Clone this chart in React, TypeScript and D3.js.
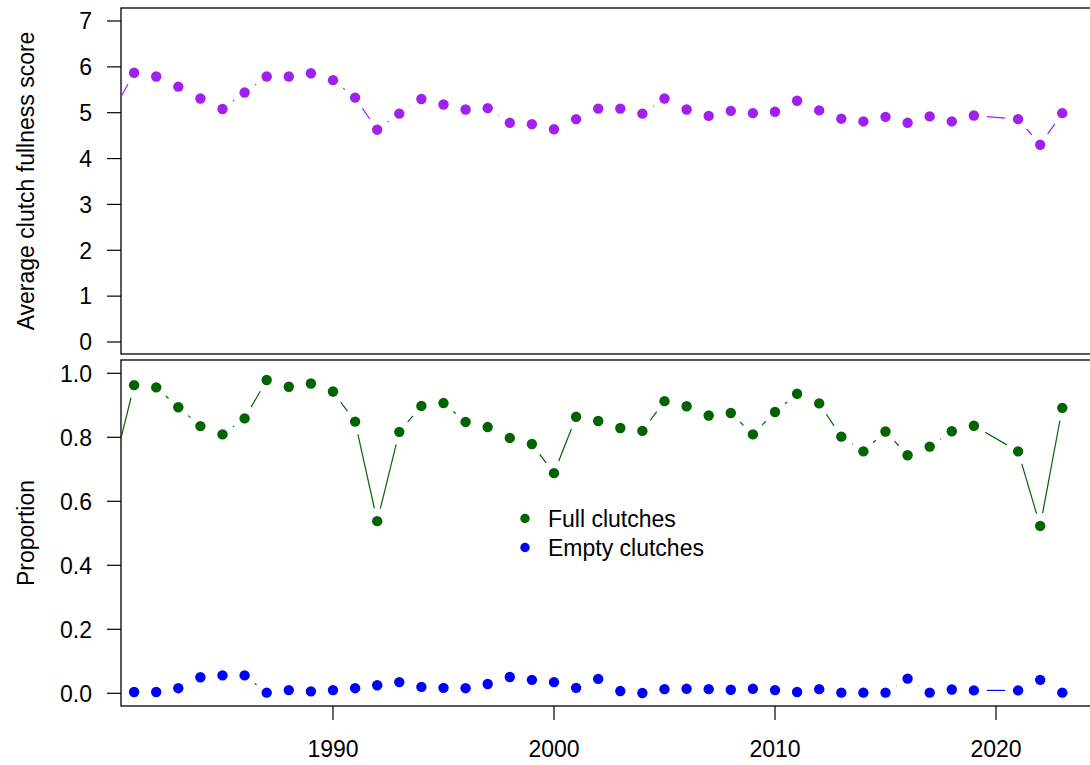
import React from "react";
import * as d3 from "d3";

const years = [1980,1981,1982,1983,1984,1985,1986,1987,1988,1989,1990,1991,1992,1993,1994,1995,1996,1997,1998,1999,2000,2001,2002,2003,2004,2005,2006,2007,2008,2009,2010,2011,2012,2013,2014,2015,2016,2017,2018,2019,2021,2022,2023];
const fullnessScore = [4.98,5.87,5.79,5.57,5.31,5.08,5.44,5.79,5.79,5.86,5.71,5.33,4.63,4.98,5.30,5.18,5.07,5.10,4.78,4.75,4.64,4.86,5.09,5.09,4.98,5.31,5.07,4.93,5.04,4.99,5.02,5.26,5.05,4.87,4.81,4.91,4.78,4.92,4.81,4.94,4.86,4.30,4.99];
const fullClutches = [0.683,0.963,0.956,0.894,0.835,0.809,0.859,0.979,0.958,0.968,0.943,0.849,0.538,0.817,0.898,0.907,0.848,0.832,0.798,0.779,0.688,0.864,0.851,0.829,0.82,0.913,0.897,0.868,0.876,0.809,0.879,0.936,0.906,0.802,0.756,0.818,0.744,0.771,0.819,0.836,0.756,0.523,0.892];
const emptyClutches = [0.005,0.004,0.004,0.016,0.05,0.056,0.056,0.002,0.010,0.006,0.010,0.016,0.025,0.035,0.02,0.017,0.016,0.029,0.051,0.042,0.035,0.017,0.045,0.007,0.001,0.013,0.014,0.013,0.011,0.014,0.010,0.004,0.013,0.002,0.002,0.002,0.046,0.002,0.012,0.009,0.009,0.042,0.002];

const topTicks = [0,1,2,3,4,5,6,7];
const bottomTicks = [0,0.2,0.4,0.6,0.8,1.0];
const xTicks = [1990,2000,2010,2020];
const legendLabels = ["Full clutches","Empty clutches"];

const FONT = "'Liberation Sans', Arial, sans-serif";
const FS = 23;
const GAP = 13;
const R = 5.2;

function typeB(xs: number[], ys: number[]) {
  const segs: [number, number, number, number][] = [];
  for (let i = 0; i < xs.length - 1; i++) {
    const dx = xs[i + 1] - xs[i];
    const dy = ys[i + 1] - ys[i];
    const d = Math.hypot(dx, dy);
    if (d <= 2 * GAP) continue;
    const ux = dx / d, uy = dy / d;
    segs.push([xs[i] + GAP * ux, ys[i] + GAP * uy, xs[i + 1] - GAP * ux, ys[i + 1] - GAP * uy]);
  }
  return segs;
}

function Series({ x, y, vals, color, clip }: any) {
  const xs = years.map((yr) => x(yr));
  const ys = vals.map((v: number) => y(v));
  const segs = typeB(xs, ys);
  return (
    <g clipPath={`url(#${clip})`}>
      {segs.map((s, i) => (
        <line key={i} x1={s[0]} y1={s[1]} x2={s[2]} y2={s[3]} stroke={color} strokeWidth={1.2} />
      ))}
      {xs.map((px, i) => (
        <circle key={i} cx={px} cy={ys[i]} r={R} fill={color} />
      ))}
    </g>
  );
}

export default function App() {
  const W = 1090, H = 765;
  const left = 121, right = 1110;
  const top1 = 8, bot1 = 354, top2 = 360, bot2 = 706;
  const x = d3.scaleLinear().domain([1980, 2020]).range([112, 996]);
  const yTop = d3.scaleLinear().domain([0, 7]).range([342, 21]);
  const yBot = d3.scaleLinear().domain([0, 1]).range([693.3, 373.3]);
  const fmt = d3.format(".1f");

  return (
    <svg width={W} height={H} style={{ position: "absolute", left: 0, top: 0, background: "#fff" }} fontFamily={FONT}>
      <defs>
        <clipPath id="c1"><rect x={left} y={top1} width={right - left} height={bot1 - top1} /></clipPath>
        <clipPath id="c2"><rect x={left} y={top2} width={right - left} height={bot2 - top2} /></clipPath>
      </defs>
      <rect width={W} height={H} fill="#fff" />

      {/* Top panel */}
      <rect x={left} y={top1} width={right - left} height={bot1 - top1} fill="none" stroke="#000" strokeWidth={1.3} />
      {topTicks.map((t) => (
        <g key={t}>
          <line x1={left - 14} x2={left} y1={yTop(t)} y2={yTop(t)} stroke="#000" strokeWidth={1.2} />
          <text x={left - 29} y={yTop(t)} dy="0.36em" textAnchor="end" fontSize={FS}>{t}</text>
        </g>
      ))}
      <text transform={`translate(34,${(top1 + bot1) / 2}) rotate(-90)`} textAnchor="middle" fontSize={FS}>Average clutch fullness score</text>
      <Series x={x} y={yTop} vals={fullnessScore} color="#A020F0" clip="c1" />

      {/* Bottom panel */}
      <rect x={left} y={top2} width={right - left} height={bot2 - top2} fill="none" stroke="#000" strokeWidth={1.3} />
      {bottomTicks.map((t) => (
        <g key={t}>
          <line x1={left - 14} x2={left} y1={yBot(t)} y2={yBot(t)} stroke="#000" strokeWidth={1.2} />
          <text x={left - 29} y={yBot(t)} dy="0.36em" textAnchor="end" fontSize={FS}>{fmt(t)}</text>
        </g>
      ))}
      <text transform={`translate(34,${(top2 + bot2) / 2}) rotate(-90)`} textAnchor="middle" fontSize={FS}>Proportion</text>
      {xTicks.map((t) => (
        <g key={t}>
          <line x1={x(t)} x2={x(t)} y1={bot2} y2={bot2 + 14} stroke="#000" strokeWidth={1.2} />
          <text x={x(t)} y={757} textAnchor="middle" fontSize={FS}>{t}</text>
        </g>
      ))}
      <Series x={x} y={yBot} vals={fullClutches} color="#006400" clip="c2" />
      <Series x={x} y={yBot} vals={emptyClutches} color="#0000FF" clip="c2" />

      {/* Legend */}
      {legendLabels.map((lab, i) => (
        <g key={lab}>
          <circle cx={525} cy={518.5 + i * 29} r={4.7} fill={i === 0 ? "#006400" : "#0000FF"} />
          <text x={548} y={518.5 + i * 29} dy="0.36em" fontSize={FS}>{lab}</text>
        </g>
      ))}
    </svg>
  );
}
